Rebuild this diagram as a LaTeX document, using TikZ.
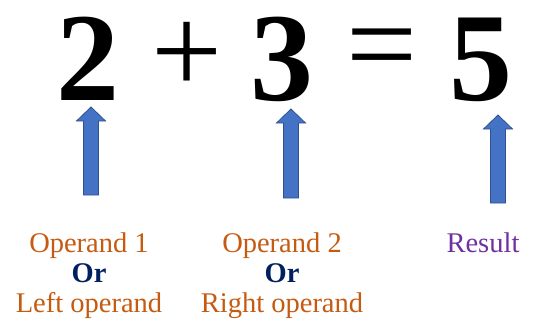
\documentclass[tikz,border=0pt]{standalone}
\usepackage{fontspec}
\setmainfont{Liberation Serif}
\newfontfamily\tnr{Liberation Serif}
\usepackage{xcolor}
\usepackage{tikz}
\usetikzlibrary{calc,positioning}
\definecolor{opc}{RGB}{197,90,17}
\definecolor{orc}{RGB}{0,32,96}
\definecolor{rsc}{RGB}{112,48,160}
\definecolor{arf}{RGB}{68,114,196}
\definecolor{ard}{RGB}{47,82,143}
\newcommand{\upblock}[2]{\draw[blockarrow] ($(#1)+(-7.5,0)$) -- ($(#2)+(-7.5,14)$) -- ($(#2)+(-14.5,14)$) -- (#2) -- ($(#2)+(14.5,14)$) -- ($(#2)+(7.5,14)$) -- ($(#1)+(7.5,0)$) -- cycle;}

\begin{document}
\begin{tikzpicture}[x=1pt,y=-1pt,
  big/.style={inner sep=0pt,font=\tnr\fontsize{126}{126}\selectfont},
  lbl/.style={inner sep=0pt,anchor=north,align=center,font=\tnr\fontsize{28.5}{30}\selectfont},
  blockarrow/.style={fill=arf,draw=ard,line width=0.8pt,line join=miter}]
  \useasboundingbox (0,0) rectangle (539,327);
  % the sum
  \node[big,anchor=base] (two) at (88,100) {\bfseries 2};
  \node[big] (plus) at (187,58) {+};
  \node[big,anchor=base] (three) at (282,100) {\bfseries 3};
  \node[big] (equals) at (382,57.5) {=};
  \node[big,anchor=base] (five) at (481,100) {\bfseries 5};
  % what each part is called
  \node[lbl,text=opc] (lbl1) at (89,233) {Operand 1\\{\bfseries\color{orc}Or}\\Left operand};
  \node[lbl,text=opc] (lbl2) at (282,233) {Operand 2\\{\bfseries\color{orc}Or}\\Right operand};
  \node[lbl,text=rsc] (lbl3) at (483,233) {Result};
  \coordinate (tail1) at (91,195); \coordinate (tip1) at (91,107);
  \coordinate (tail2) at (291,198); \coordinate (tip2) at (291,109);
  \coordinate (tail3) at (498,203); \coordinate (tip3) at (498,115);
  \upblock{tail1}{tip1} \upblock{tail2}{tip2} \upblock{tail3}{tip3}
\end{tikzpicture}
\end{document}
